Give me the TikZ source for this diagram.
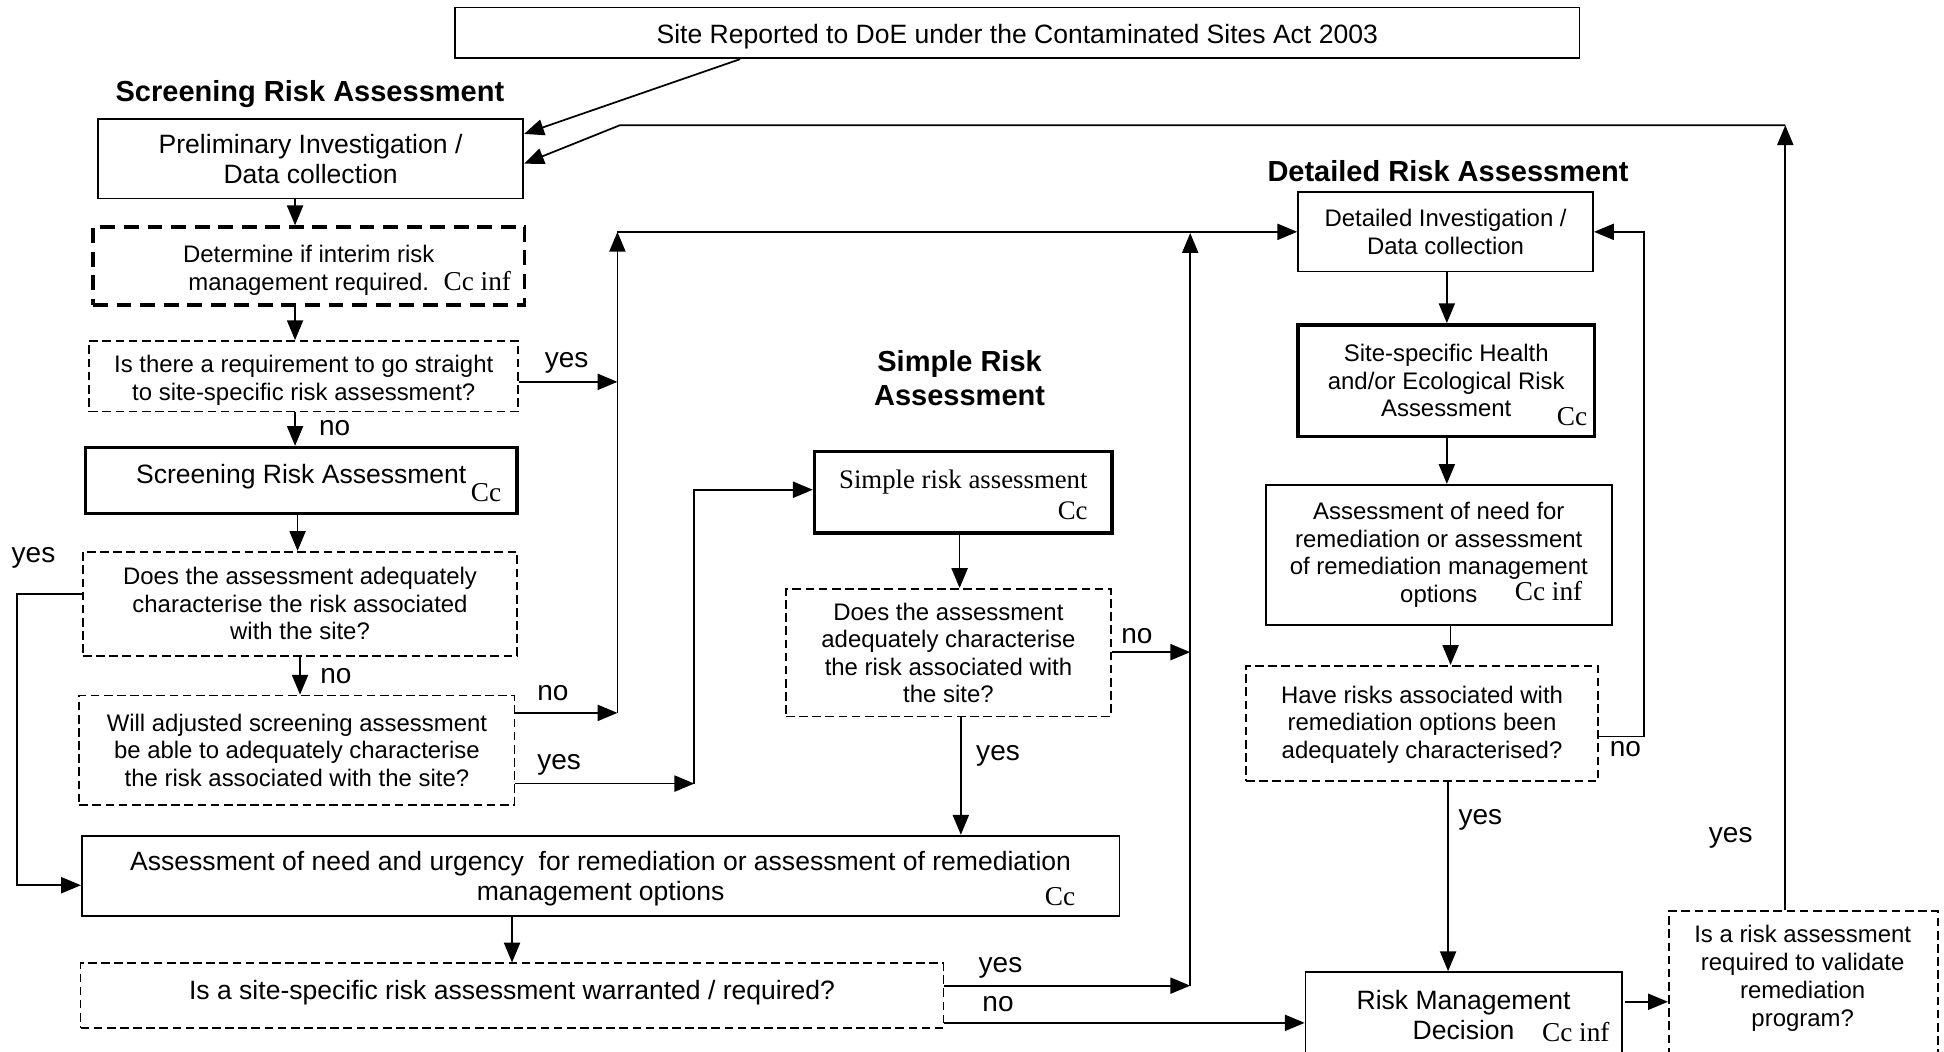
\documentclass[tikz,border=0pt]{standalone}
\usepackage{fontspec}
\setmainfont{Liberation Sans}
\newfontfamily\tms{Liberation Serif}
\usetikzlibrary{arrows.meta,calc}
\tikzset{
 base/.style={draw, line width=0.7pt, inner sep=0pt, align=center, font=\fontsize{9.65}{11.1}\selectfont},
 solidbox/.style={base},
 thickbox/.style={base, line width=1.4pt},
 qbox/.style={base, dash pattern=on 3.5pt off 1.8pt},
 thickdash/.style={base, line width=1.3pt, dash pattern=on 6pt off 3.5pt},
 big/.style={font=\fontsize{10.7}{12}\selectfont},
 head/.style={font=\fontsize{11.7}{13.5}\selectfont\bfseries, align=center, inner sep=0pt},
 lbl/.style={font=\fontsize{11.3}{13}\selectfont, inner sep=0pt},
 cc/.style={font=\fontsize{11}{13}\selectfont\tms, inner sep=0pt},
 arr/.style={line width=0.7pt, -{Triangle[length=8pt,width=6.5pt]}},
}
\newcommand\bx[7]{\node[#2, minimum width={(#5-(#3))*0.5pt}, minimum height={(#6-(#4))*0.5pt}] (#1) at ({((#3)+(#5))/2},{((#4)+(#6))/2}) {#7};}
% shift text inside a box without changing its reported size
\newcommand\shl[2]{\raisebox{#1}[\height][\depth]{#2}}
\newcommand\shm[2]{\raisebox{#1}[\height][\depth]{\begin{tabular}{@{}c@{}}#2\end{tabular}}}
\begin{document}
\begin{tikzpicture}[x=0.5pt,y=-0.5pt]
\useasboundingbox (0,0) rectangle (1568,848);
\fill[white] (0,0) rectangle (1568,848);
\clip (0,0) rectangle (1568,848);
% boxes
\bx{site}{solidbox,big}{367}{6}{1274}{47}{\shl{-1.5pt}{Site Reported to DoE under the Contaminated Sites Act 2003}}
\bx{prelim}{solidbox,big}{79}{96}{422}{160}{Preliminary Investigation /\\Data collection}
\bx{interim}{thickdash}{75}{183}{423}{246}{\shm{-2pt}{Determine if interim risk\\management required.}}
\bx{q1}{qbox}{72}{275}{418}{332}{\shm{-2pt}{Is there a requirement to go straight\\to site-specific risk assessment?}}
\bx{sra}{thickbox,big}{69}{361}{417}{414}{\shl{1.5pt}{Screening Risk Assessment}}
\bx{q2}{qbox}{67}{445}{417}{529}{Does the assessment adequately\\characterise the risk associated\\with the site?}
\bx{q3}{qbox}{64}{561}{415}{649}{Will adjusted screening assessment\\be able to adequately characterise\\the risk associated with the site?}
\bx{simple}{thickbox,align=right,font=\fontsize{10.8}{12.5}\selectfont\tms}{657}{364}{897}{430}{\shl{-1pt}{Simple risk assessment}\\\shl{-1pt}{Cc}}
\bx{q4}{qbox}{634}{475}{896}{578}{Does the assessment\\adequately characterise\\the risk associated with\\the site?}
\bx{A}{solidbox,big}{66}{674}{903}{739}{\shm{-1.5pt}{Assessment of need and urgency\ \ for remediation or assessment of remediation\\management options}}
\bx{q5}{qbox,big}{65}{777}{761}{829}{\shl{1pt}{Is a site-specific risk assessment warranted / required?}}
\bx{di}{solidbox}{1047}{155}{1285}{219}{Detailed Investigation /\\Data collection}
\bx{ss}{thickbox}{1047}{262}{1286}{352}{Site-specific Health\\and/or Ecological Risk\\Assessment}
\bx{an}{solidbox}{1021}{391}{1300}{504}{Assessment of need for\\remediation or assessment\\of remediation management\\options}
\bx{q6}{qbox}{1005}{537}{1289}{630}{\shm{-0.7pt}{Have risks associated with\\remediation options been\\adequately characterised?}}
\bx{rmd}{solidbox,big}{1053}{784}{1308}{853}{Risk Management\\Decision}
\bx{q7}{qbox}{1346}{735}{1563}{880}{}
\node[align=center, inner sep=0pt, font=\fontsize{9.65}{11.2}\selectfont] (q7t) at (1454,789) {Is a risk assessment\\required to validate\\remediation\\program?};
% headings
\node[head] (h1) at (250,76) {Screening Risk Assessment};
\node[head] (h2) at (774,305) {Simple Risk\\Assessment};
\node[head] (h3) at (1168,138) {Detailed Risk Assessment};
% Cc marks
\node[cc] (cc1) at (385,227) {Cc inf};
\node[cc] (cc2) at (392,397) {Cc};
\node[cc] (cc3) at (1268,336) {Cc};
\node[cc] (cc4) at (855,723) {Cc};
\node[cc] (cc5) at (1249,477) {Cc inf};
\node[cc] (cc6) at (1271,832) {Cc inf};
% labels
\node[lbl] (l1) at (457,293) {yes};
\node[lbl] (l2) at (270,345) {no};
\node[lbl] (l3) at (27,450) {yes};
\node[lbl] (l4) at (271,545) {no};
\node[lbl] (l5) at (446,559) {no};
\node[lbl] (l6) at (451,617) {yes};
\node[lbl] (l7) at (917,513) {no};
\node[lbl] (l8) at (805,610) {yes};
\node[lbl] (l9) at (807,781) {yes};
\node[lbl] (l10) at (805,810) {no};
\node[lbl] (l11) at (1311,604) {no};
\node[lbl] (l12) at (1194,661) {yes};
\node[lbl] (l13) at (1396,676) {yes};
% coordinates
\coordinate (cA) at (597,0);
\coordinate (cB) at (0,108);
\coordinate (cTR) at (1440,101);
\coordinate (cTL) at (500,101);
\coordinate (cC) at (0,132);
\coordinate (v1) at (238,0);
\coordinate (v2) at (240,0);
\coordinate (v3) at (242,0);
\coordinate (h1y) at (0,308);
\coordinate (jTop) at (498,187);
\coordinate (jBot) at (498,575);
\coordinate (h2y) at (0,479);
\coordinate (lx) at (14,0);
\coordinate (h3y) at (0,714);
\coordinate (yesR) at (560,632);
\coordinate (simY) at (0,395);
\coordinate (v4) at (774,0);
\coordinate (v4b) at (775,0);
\coordinate (kTop) at (960,188);
\coordinate (kMid) at (960,526);
\coordinate (kBot) at (960,795);
\coordinate (v5) at (413,0);
\coordinate (noY) at (0,825);
\coordinate (v6) at (1167,0);
\coordinate (v7) at (1170,0);
\coordinate (v8) at (1168,0);
\coordinate (nX) at (1326,0);
\coordinate (nY1) at (0,594);
\coordinate (nY2) at (0,187);
\coordinate (rY) at (0,808);
\coordinate (rX) at (1311,0);
% connectors
\draw[arr] (site.south -| cA) -- (prelim.east |- cB);
\draw[arr] (q7.north -| cTR) -- (cTR);
\draw[arr] (cTR) -- (cTL) -- (prelim.east |- cC);
\draw[arr] (prelim.south -| v1) -- (interim.north -| v1);
\draw[arr] (interim.south -| v1) -- (q1.north -| v1);
\draw[arr] (q1.east |- h1y) -- (jTop |- h1y);
\draw[arr] (q1.south -| v1) -- (sra.north -| v1);
\draw[arr] (sra.south -| v2) -- (q2.north -| v2);
\draw[arr] (q2.west |- h2y) -- (lx |- h2y) -- (lx |- h3y) -- (A.west |- h3y);
\draw[arr] (q2.south -| v3) -- (q3.north -| v3);
\draw[arr] (q3.east |- jBot) -- (jBot);
\draw[arr] (jBot) -- (jTop);
\draw[arr] (jTop) -- (di.west |- jTop);
\draw[arr] (q3.east |- yesR) -- (yesR);
\draw[arr] (yesR) -- (yesR |- simY) -- (simple.west |- simY);
\draw[arr] (simple.south -| v4) -- (q4.north -| v4);
\draw[arr] (q4.east |- kMid) -- (kMid);
\draw[arr] (kBot) -- (kTop);
\draw[arr] (q4.south -| v4b) -- (A.north -| v4b);
\draw[arr] (A.south -| v5) -- (q5.north -| v5);
\draw[arr] (q5.east |- kBot) -- (kBot);
\draw[arr] (q5.east |- noY) -- (rmd.west |- noY);
\draw[arr] (di.south -| v6) -- (ss.north -| v6);
\draw[arr] (ss.south -| v6) -- (an.north -| v6);
\draw[arr] (an.south -| v7) -- (q6.north -| v7);
\draw[arr] (q6.east |- nY1) -- (nX |- nY1) -- (nX |- nY2) -- (di.east |- nY2);
\draw[arr] (q6.south -| v8) -- (rmd.north -| v8);
\draw[arr] (rX |- rY) -- (q7.west |- rY);
\end{tikzpicture}
\end{document}
